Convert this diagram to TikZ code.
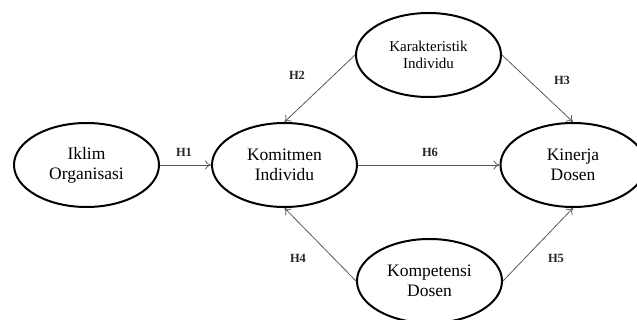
\documentclass[tikz,border=0pt]{standalone}
\usepackage{fontspec}
\setmainfont{Liberation Serif}
\usetikzlibrary{shapes.geometric,arrows.meta}
\begin{document}
\begin{tikzpicture}[x=1pt,y=-1pt,
  var/.style={ellipse,draw=black,line width=2pt,minimum width=145pt,minimum height=84pt,inner sep=0pt,align=center,font=\fontsize{17.5}{20}\selectfont},
  varsmall/.style={var,font=\fontsize{15}{17}\selectfont},
  conn/.style={draw=black!65,line width=0.8pt,-{To[length=6pt,width=9pt]}},
  hlab/.style={font=\fontsize{12.5}{14}\selectfont\bfseries,text=black!85,inner sep=0pt}]
\useasboundingbox (0,0) rectangle (637,320);
\node[var] (iklim) at (86.5,165) {Iklim\\Organisasi};
\node[var] (komit) at (284.5,165) {Komitmen\\Individu};
\node[varsmall] (karak) at (428.5,55) {Karakteristik\\Individu};
\node[var] (kinerja) at (573,165) {Kinerja\\Dosen};
\node[var] (kompet) at (429.5,281) {Kompetensi\\Dosen};
\draw[conn] (iklim.east) -- (komit.west);
\draw[conn] (karak.west) -- (komit.north);
\draw[conn] (karak.east) -- (kinerja.north);
\draw[conn] (komit.east) -- (kinerja.west);
\draw[conn] (kompet.west) -- (komit.south);
\draw[conn] (kompet.east) -- (kinerja.south);
\node[hlab] (h1) at (184,152) {H1};
\node[hlab] (h2) at (297,75) {H2};
\node[hlab] (h3) at (562,80) {H3};
\node[hlab] (h4) at (298,258) {H4};
\node[hlab] (h5) at (556,258) {H5};
\node[hlab] (h6) at (430,152) {H6};
\end{tikzpicture}
\end{document}
